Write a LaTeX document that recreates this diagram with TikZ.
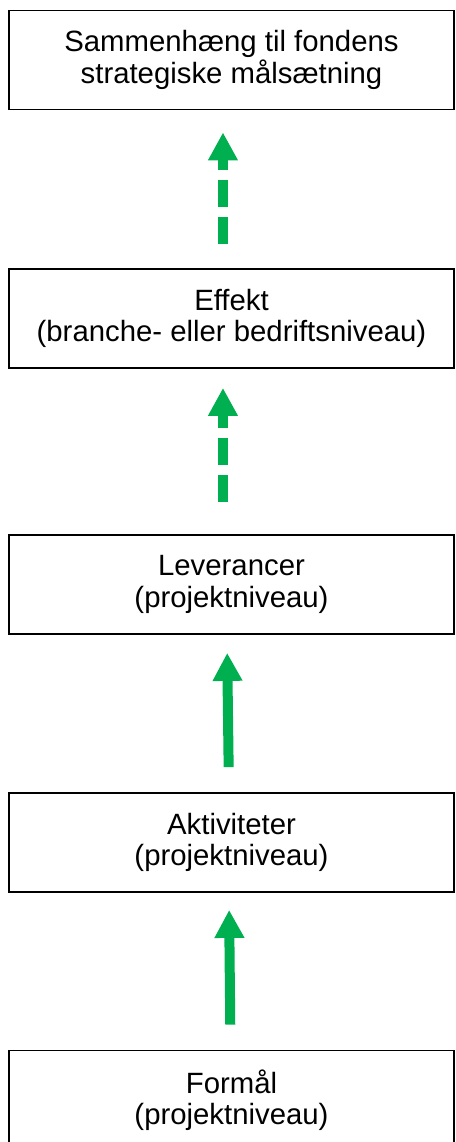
\documentclass[tikz,border=0pt]{standalone}
\usepackage{fontspec}
\setmainfont{Liberation Sans}
\usetikzlibrary{arrows.meta}
\definecolor{pilgroen}{RGB}{0,176,80}
\tikzset{
  niveau/.style={draw, line width=1.1pt, minimum width=333.75pt, minimum height=74.5pt,
    inner sep=0pt, align=center, font=\fontsize{22}{23.5}\selectfont},
  pil/.style={pilgroen, line width=7.5pt, -{Triangle[length=21pt,width=21pt]}},
  stiplet/.style={pil, dash pattern=on 20.25pt off 7.5pt}
}

\begin{document}
\begin{tikzpicture}[x=0.75pt,y=-0.75pt]
				\useasboundingbox (0,0) rectangle (455,1142);
				\node[niveau] (maal) at (231.5,60) {Sammenhæng til fondens\\strategiske målsætning};
				\node[niveau] (effekt) at (231.5,318.5) {Effekt\\(branche- eller bedriftsniveau)};
				\node[niveau] (lev) at (231.5,584.5) {Leverancer\\(projektniveau)};
				\node[niveau] (aktiv) at (231.5,842.5) {Aktiviteter\\(projektniveau)};
				\node[niveau] (formaal) at (231.5,1100) {Formål\\(projektniveau)};
				\draw[pil, shorten <=18.75pt, shorten >=12.75pt] ([xshift=-0.75pt]formaal.north) -- ([xshift=-1.9pt]aktiv.south);
				\draw[pil, shorten <=18.75pt, shorten >=13.5pt] ([xshift=-1.9pt]aktiv.north) -- ([xshift=-3.4pt]lev.south);
				\draw[stiplet, shorten <=24pt, shorten >=14.25pt] ([xshift=-6.4pt]lev.north) -- ([xshift=-6.4pt]effekt.south);
				\draw[stiplet, shorten <=18pt, shorten >=16.5pt] ([xshift=-6.4pt]effekt.north) -- ([xshift=-6.4pt]maal.south);
			\end{tikzpicture}
\end{document}
